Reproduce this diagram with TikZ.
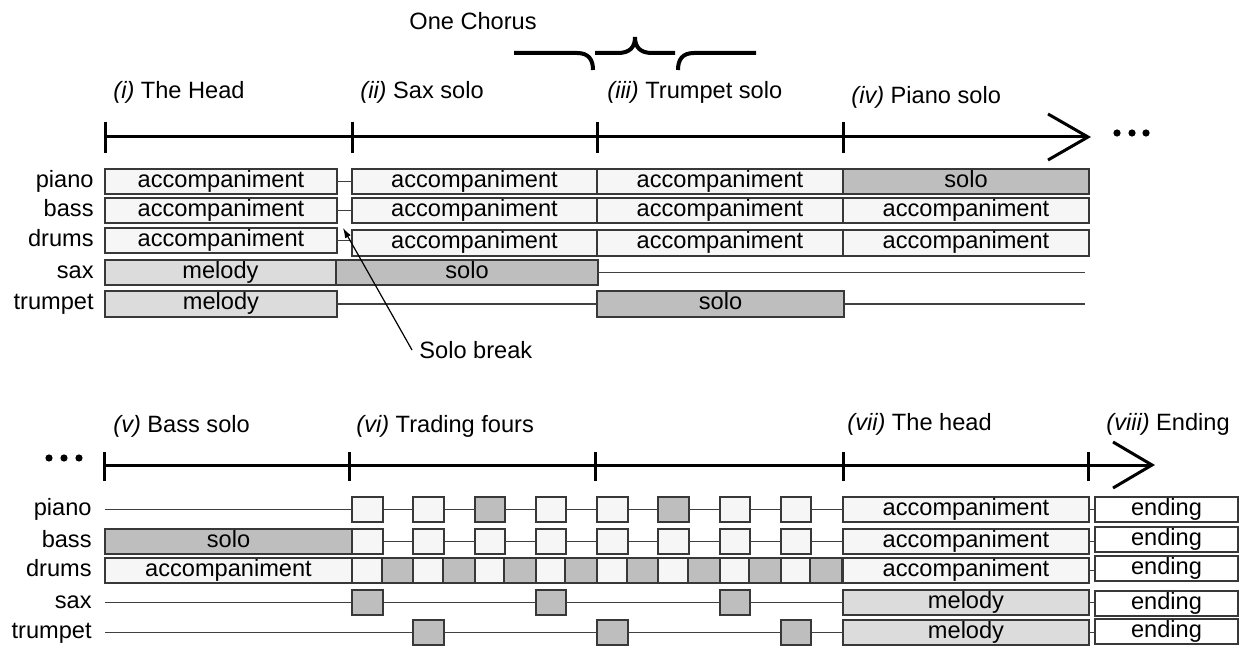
\documentclass[tikz,border=0pt]{standalone}
\usepackage{fontspec}
\setmainfont{Liberation Sans}
\usetikzlibrary{arrows.meta}
\definecolor{bc}{HTML}{383838}
\definecolor{accf}{HTML}{F6F6F6}
\definecolor{melf}{HTML}{DCDCDC}
\definecolor{solf}{HTML}{BEBEBE}
\definecolor{lc}{HTML}{404040}
% box: name, style, x1, y1, x2, y2, text (pixel units)
\newcommand\bx[7]{\node[#2, minimum width={(#5-#3)*0.5pt}, minimum height={(#6-#4)*0.5pt}] (#1) at ({(#3+#5)/2},{(#4+#6)/2}) {#7};}
\tikzset{
  txt/.style={font=\fontsize{11.8pt}{14pt}\selectfont, text height=8.5pt, text depth=2.5pt, inner sep=0pt},
  cellbox/.style={txt, draw=bc, line width=1pt, rectangle, outer sep=0pt},
  acc/.style={cellbox, fill=accf},
  mel/.style={cellbox, fill=melf},
  sol/.style={cellbox, fill=solf},
  endb/.style={cellbox, fill=white},
  conn/.style={draw=lc, line width=0.75pt},
  rowlab/.style={txt, anchor=east},
  head/.style={txt, anchor=base west},
  axis/.style={line width=1.5pt, black},
  brc/.style={line width=2pt, black},
}
\begin{document}
\begin{tikzpicture}[x=0.5pt, y=-0.5pt]
\useasboundingbox (0,0) rectangle (1240,646);

% ---------------- top part ----------------
\node[head] (chorus) at (409,30) {One Chorus};
\draw[brc] (514,53) -- (577,53) .. controls (589,53) and (593,60) .. (593,70);
\draw[brc] (595,53) -- (618,53) .. controls (630,53) and (635,47) .. (635,37) .. controls (635,47) and (640,53) .. (652,53) -- (675,53);
\draw[brc] (678,70) .. controls (678,60) and (682,53) .. (694,53) -- (756,53);

\node[head] (h1) at (113,99) {\textit{(i)} The Head};
\node[head] (h2) at (360,99) {\textit{(ii)} Sax solo};
\node[head] (h3) at (607,99) {\textit{(iii)} Trumpet solo};
\node[head] (h4) at (851,104) {\textit{(iv)} Piano solo};

\coordinate (ta0) at (105,137);
\coordinate (ta1) at (352,137);
\coordinate (ta2) at (597,137);
\coordinate (ta3) at (843,137);
\coordinate (taE) at (1088,137);
\draw[axis] (ta0) -- (taE);
\foreach \c in {ta0,ta1,ta2,ta3} \draw[axis] (\c) ++(0,-15) -- ++(0,31);
\draw[axis] (taE) ++(-40,-23) -- (taE) -- ++(-40,23);
\foreach \xx in {1117,1132,1146} \fill (\xx,133) circle[radius=1.8pt];

\node[rowlab] (lp) at (94,181.5) {piano};
\node[rowlab] (lb) at (94,210.5) {bass};
\node[rowlab] (ld) at (94,240.5) {drums};
\node[rowlab] (ls) at (94,272.5) {sax};
\node[rowlab] (lt) at (94,304) {trumpet};

% piano
\bx{p1}{acc}{105}{169}{337}{194}{accompaniment}
\bx{p2}{acc}{352}{169}{597}{194}{accompaniment}
\bx{p3}{acc}{597}{169}{843}{194}{accompaniment}
\bx{p4}{sol}{843}{169}{1089}{194}{solo}
\draw[conn] (p1.east) -- (p2.west);
% bass
\bx{b1}{acc}{105}{198}{337}{223}{accompaniment}
\bx{b2}{acc}{352}{198}{597}{223}{accompaniment}
\bx{b3}{acc}{597}{198}{843}{223}{accompaniment}
\bx{b4}{acc}{843}{198}{1089}{223}{accompaniment}
\draw[conn] (b1.east) -- (b2.west);
% drums
\bx{d1}{acc}{105}{228}{337}{253}{accompaniment}
\bx{d2}{acc}{352}{230}{597}{256}{accompaniment}
\bx{d3}{acc}{597}{230}{843}{256}{accompaniment}
\bx{d4}{acc}{843}{230}{1089}{256}{accompaniment}
\draw[conn] (d1.east) -- (d1.east -| d2.west);
% sax
\bx{s1}{mel}{105}{260}{336}{285}{melody}
\bx{s2}{sol}{336}{260}{598}{285}{solo}
\coordinate (sxe) at (1085,272.5);
\draw[conn] (s2.east) -- (sxe);
% trumpet
\bx{t1}{mel}{105}{291}{337}{317}{melody}
\bx{t3}{sol}{597}{291}{844}{317}{solo}
\coordinate (tre) at (1085,304);
\draw[conn] (t1.east) -- (t3.west);
\draw[conn] (t3.east) -- (tre);

% solo break
\node[head] (sb) at (419,358) {Solo break};
\coordinate (sbtip) at (343,228);
\draw[line width=0.6pt, -{Latex[length=5pt,width=3.2pt]}] ([xshift=-3.5pt,yshift=1pt]sb.west) -- (sbtip);

% ---------------- bottom part ----------------
\foreach \xx in {49,64,79} \fill (\xx,458) circle[radius=1.8pt];
\node[head] (h5) at (113,432) {\textit{(v)} Bass solo};
\node[head] (h6) at (356,432) {\textit{(vi)} Trading fours};
\node[head] (h7) at (847,430) {\textit{(vii)} The head};
\node[head] (h8) at (1106,430) {\textit{(viii)} Ending};

\coordinate (tb0) at (104,465);
\coordinate (tb1) at (349,465);
\coordinate (tb2) at (595,465);
\coordinate (tb3) at (843,465);
\coordinate (tb4) at (1088,465);
\coordinate (tbE) at (1152,465);
\draw[axis] (tb0) -- (tbE);
\foreach \c in {tb0,tb1,tb2,tb3,tb4} \draw[axis] (\c) ++(0,-13) -- ++(0,29);
\draw[axis] (tbE) ++(-39,-23) -- (tbE) -- ++(-39,23);

\node[rowlab] (mp) at (92,509.5) {piano};
\node[rowlab] (mb) at (92,541.5) {bass};
\node[rowlab] (md) at (92,570.5) {drums};
\node[rowlab] (ms) at (92,602.5) {sax};
\node[rowlab] (mt) at (92,632.5) {trumpet};

% piano
\coordinate (pbs) at (105,509.5);
\foreach \k/\s in {0/acc,1/acc,2/sol,3/acc,4/acc,5/sol,6/acc,7/acc}
  \node[\s, minimum width=15.3pt, minimum height=12.5pt] (pq\k) at ({352+61.25*\k+15.3},509.5) {};
\bx{pH}{acc}{843}{497}{1089}{522}{accompaniment}
\bx{pE}{endb}{1095}{497}{1238}{522}{ending}
\draw[conn] (pbs) -- (pq0);
\foreach \a/\b in {0/1,1/2,2/3,3/4,4/5,5/6,6/7} \draw[conn] (pq\a) -- (pq\b);
\draw[conn] (pq7) -- (pH);
\draw[conn] (pH.east) -- (pH.east -| pE.west);

% bass
\bx{bS}{sol}{105}{529}{352}{554}{solo}
\foreach \k in {0,...,7}
  \node[acc, minimum width=15.3pt, minimum height=12.5pt] (bq\k) at ({352+61.25*\k+15.3},541.5) {};
\bx{bH}{acc}{843}{529}{1089}{554}{accompaniment}
\bx{bE}{endb}{1095}{527}{1238}{552}{ending}
\foreach \a/\b in {0/1,1/2,2/3,3/4,4/5,5/6,6/7} \draw[conn] (bq\a) -- (bq\b);
\draw[conn] (bq7) -- (bH);
\draw[conn] (bH.east) -- (bH.east -| bE.west);

% drums
\bx{dA}{acc}{105}{558}{352}{583}{accompaniment}
\foreach \k in {0,...,7} {
  \node[acc, minimum width=14.75pt, minimum height=12.5pt] (dl\k) at ({352+61.25*\k+14.75},570.5) {};
  \node[sol, minimum width=15.875pt, minimum height=12.5pt] (dg\k) at ({352+61.25*\k+29.5+15.875},570.5) {};
}
\bx{dH}{acc}{843}{558}{1089}{583}{accompaniment}
\bx{dE}{endb}{1095}{556}{1238}{581}{ending}
\draw[conn] (dH.east) -- (dH.east -| dE.west);

% sax
\coordinate (sbs) at (105,602.5);
\foreach \k in {0,3,6}
  \node[sol, minimum width=15.3pt, minimum height=12.5pt] (sq\k) at ({352+61.25*\k+15.3},602.5) {};
\bx{sH}{mel}{843}{590}{1089}{615}{melody}
\bx{sE}{endb}{1095}{591}{1238}{616}{ending}
\draw[conn] (sbs) -- (sq0);
\draw[conn] (sq0) -- (sq3);
\draw[conn] (sq3) -- (sq6);
\draw[conn] (sq6) -- (sH);
\draw[conn] (sH.east) -- (sH.east -| sE.west);

% trumpet
\coordinate (tbs) at (105,632.5);
\foreach \k in {1,4,7}
  \node[sol, minimum width=15.3pt, minimum height=12.5pt] (tq\k) at ({352+61.25*\k+15.3},632.5) {};
\bx{tH}{mel}{843}{620}{1089}{645}{melody}
\bx{tE}{endb}{1095}{619}{1238}{644}{ending}
\draw[conn] (tbs) -- (tq1);
\draw[conn] (tq1) -- (tq4);
\draw[conn] (tq4) -- (tq7);
\draw[conn] (tq7) -- (tH);
\draw[conn] (tH.east) -- (tH.east -| tE.west);
\end{tikzpicture}
\end{document}
